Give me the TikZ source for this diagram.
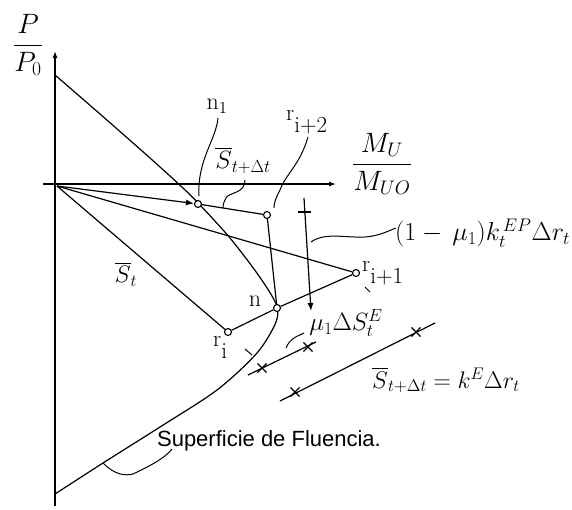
\RequirePackage{fix-cm}
\documentclass[tikz,border=0pt]{standalone}
\usepackage{amsmath,amssymb}
\usepackage{fontspec}
\newfontfamily\arialfont{Liberation Sans}
\usepackage{tikz}
\usetikzlibrary{arrows.meta,positioning,calc,shapes.misc}
\tikzset{
  axis/.style={line width=1.3pt,-{Latex[length=7pt,width=5pt]}},
  ln/.style={line width=1.2pt},
  lead/.style={line width=1pt},
  pt/.style={draw,circle,line width=1.1pt,fill=white,inner sep=0pt,minimum size=7pt},
  cut/.style={draw,cross out,line width=1.1pt,inner sep=0pt,minimum size=8pt},
  lbl/.style={inner sep=0pt},
  arr/.style={ln,-{Latex[length=8pt,width=6pt]}}
}
\newcommand{\fs}[1]{\fontsize{#1}{#1}\selectfont}
\newcommand{\rlab}[1]{r\raisebox{-12pt}{#1}}

\begin{document}
\begin{tikzpicture}[x=1pt,y=-1pt]
\useasboundingbox (0,0) rectangle (572,509);
% axes
\coordinate (O) at (57,186);
\coordinate (ybot) at (55,506);
\coordinate (ytop) at (55,51);
\coordinate (xlft) at (43,184);
\coordinate (xrgt) at (336,184);
\draw[axis] (ybot) -- (ytop);
\draw[axis] (xlft) -- (xrgt);
\node[lbl,font=\fs{28}] (pax) at (28,45) {$\dfrac{P}{P_0}$};
\node[lbl,font=\fs{28}] (max) at (382,164) {$\dfrac{M_U}{M_{UO}}$};
% yield surface
\draw[ln] plot[smooth,tension=0.5] coordinates {(55,75) (100,114) (150,158) (183,188) (200,205)
  (230,238) (259,276) (276,304) (276,322) (257,353) (217,390) (160,427) (103,463) (55,494)};
% points
\node[pt] (n1) at (198,204) {};
\node[pt] (ri2) at (267,215) {};
\node[pt] (ri1) at (356,273) {};
\node[pt] (ri) at (228,332) {};
\node[pt] (n) at (277,308) {};
% paths
\draw[arr] (O) -- (n1);
\draw[ln] (n1) -- (ri2);
\draw[ln] (O) -- (ri1);
\draw[ln] (O) -- (ri);
\draw[ln] (ri) -- (n);
\draw[ln] (n) -- (ri1);
\draw[ln] (ri2) -- (n);
% vertical step
\coordinate (vt) at (304,198);
\coordinate (vb) at (311,311);
\draw[arr] (vt) -- (vb);
\draw[ln] (298,212) -- (311,212);
% lines with cuts
\coordinate (a1) at (248,375);
\coordinate (a2) at (316,342);
\coordinate (b1) at (280,401);
\coordinate (b2) at (435,323);
\draw[ln] (a1) -- (a2);
\draw[ln] (b1) -- (b2);
\node[cut] (ca1) at (262,368) {};
\node[cut] (ca2) at (308,347) {};
\node[cut] (cb1) at (295,392) {};
\node[cut] (cb2) at (416,332) {};
% small marks
\draw[lead] (245,349) -- (252,355);
\draw[lead] (365,287) -- (370,292);
% labels
\node[lbl,font=\fs{24}] (ln1) at (217,106) {$\mathrm{n}_1$};
\node[lbl,font=\fs{25}] (lst) at (243,160) {$\overline{S}_{t+\Delta t}$};
\node[lbl,font=\fs{23},anchor=base west] (lri2) at (286,120) {\rlab{i+2}};
\node[lbl,font=\fs{23},anchor=base west] (lri1) at (362,271) {\rlab{i+1}};
\node[lbl,font=\fs{23},anchor=base west] (lri) at (213,346) {\rlab{i}};
\node[lbl,font=\fs{24}] (ln) at (255,301) {n};
\node[lbl,font=\fs{24}] (lsi) at (126,274) {$\overline{S}_t$};
\node[lbl,font=\fs{25}] (lmu) at (346,323) {$\mu_1\Delta S^E_t$};
\node[lbl,font=\fs{26},anchor=west] (lkep) at (395,233) {$(1-\,\mu_1)k^{\,EP}_{t}\Delta r_t$};
\node[lbl,font=\fs{24}] (leq) at (446,380) {$\overline{S}_{t+\Delta t}=k^E\Delta r_t$};
\node[lbl,font=\arialfont\fs{22}] (lsf) at (269,441) {Superficie de Fluencia.};
% leaders
\draw[lead] (218,118) .. controls (216,140) and (197,160) .. (199,196);
\draw[lead] (245,180) .. controls (245,194) and (229,192) .. (226,198) .. controls (224,202) and (223,204) .. (223,208);
\draw[lead] (308,137) .. controls (300,165) and (285,175) .. (280,190) .. controls (276,198) and (274,202) .. (274,208);
\draw[lead] (311,242) .. controls (325,232) and (345,238) .. (365,237) .. controls (380,236) and (390,230) .. (396,228);
\draw[lead] (286,348) .. controls (290,338) and (298,336) .. (304,333);
\draw[lead] (103,463) .. controls (115,475) and (125,476) .. (133,474) .. controls (150,466) and (165,458) .. (172,449);
\end{tikzpicture}
\end{document}
